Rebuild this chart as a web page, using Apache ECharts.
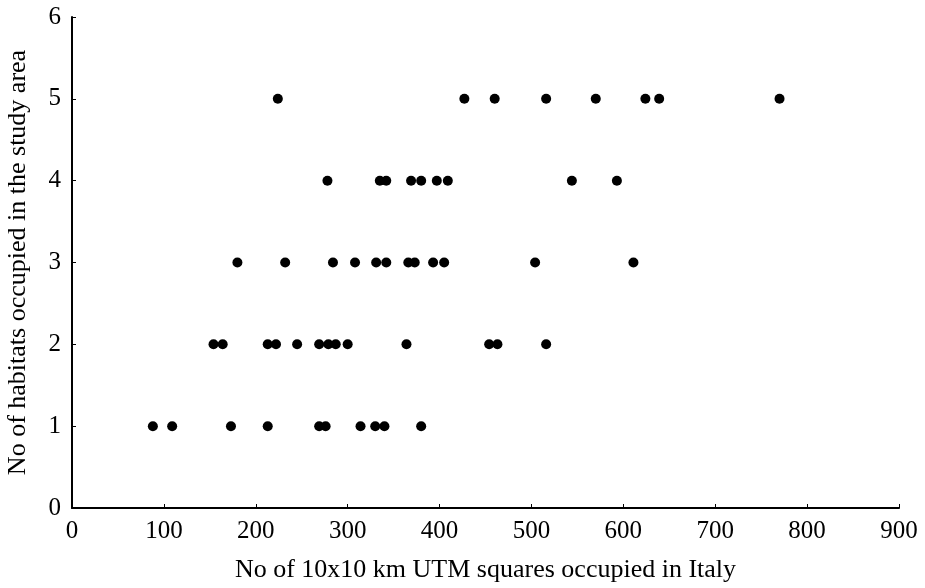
<!DOCTYPE html>
<html>
<head>
<meta charset="utf-8">
<title>Habitats vs UTM squares</title>
<script src="https://cdn.jsdelivr.net/npm/echarts@6/dist/echarts.min.js"></script>
<style>
  html, body { margin: 0; padding: 0; background: #fff; }
  #chart { width: 925px; height: 588px; }
</style>
</head>
<body>
<div id="chart"></div>
<script>
// 每个栖息地数量(y)对应的意大利 UTM 方格数(x)
const habitats1 = [88, 109, 173, 213, 269, 276, 314, 330, 340, 380]
const habitats2 = [154, 164, 213, 222, 245, 269, 279, 287, 300, 364, 454, 463, 516]
const habitats3 = [180, 232, 284, 308, 331, 342, 366, 373, 393, 405, 504, 611]
const habitats4 = [278, 335, 342, 369, 380, 397, 409, 544, 593]
const habitats5 = [224, 427, 460, 516, 570, 624, 639, 770]

const xTicks = [0, 100, 200, 300, 400, 500, 600, 700, 800, 900]
const yTicks = [0, 1, 2, 3, 4, 5, 6]

const groups = [habitats1, habitats2, habitats3, habitats4, habitats5]
const points = []
groups.forEach((xs, i) => xs.forEach(x => points.push([x, i + 1])))

const font = '"Liberation Serif", "Times New Roman", serif'
const axisCommon = {
  axisLine: { show: true, lineStyle: { color: '#000', width: 2 } },
  axisTick: { show: true, inside: true, length: 4, lineStyle: { color: '#000', width: 1 } },
  axisLabel: { color: '#000', fontFamily: font, fontSize: 25, margin: 11 },
  splitLine: { show: false },
  nameLocation: 'middle',
  nameTextStyle: { color: '#000', fontFamily: font, fontSize: 26 }
}

const chart = echarts.init(document.getElementById('chart'))
chart.setOption({
  backgroundColor: '#fff',
  animation: false,
  grid: { left: 72, right: 26, top: 17, bottom: 80, outerBoundsMode: 'none' },
  xAxis: {
    ...axisCommon,
    type: 'value',
    min: xTicks[0],
    max: xTicks[xTicks.length - 1],
    interval: 100,
    name: 'No of 10x10 km UTM squares occupied in Italy',
    nameGap: 49
  },
  yAxis: {
    ...axisCommon,
    type: 'value',
    min: yTicks[0],
    max: yTicks[yTicks.length - 1],
    interval: 1,
    name: 'No of habitats occupied in the study area',
    nameGap: 41
  },
  series: [{
    type: 'scatter',
    data: points,
    symbol: 'circle',
    symbolSize: 10,
    itemStyle: { color: '#000', opacity: 1 }
  }]
})
</script>
</body>
</html>
